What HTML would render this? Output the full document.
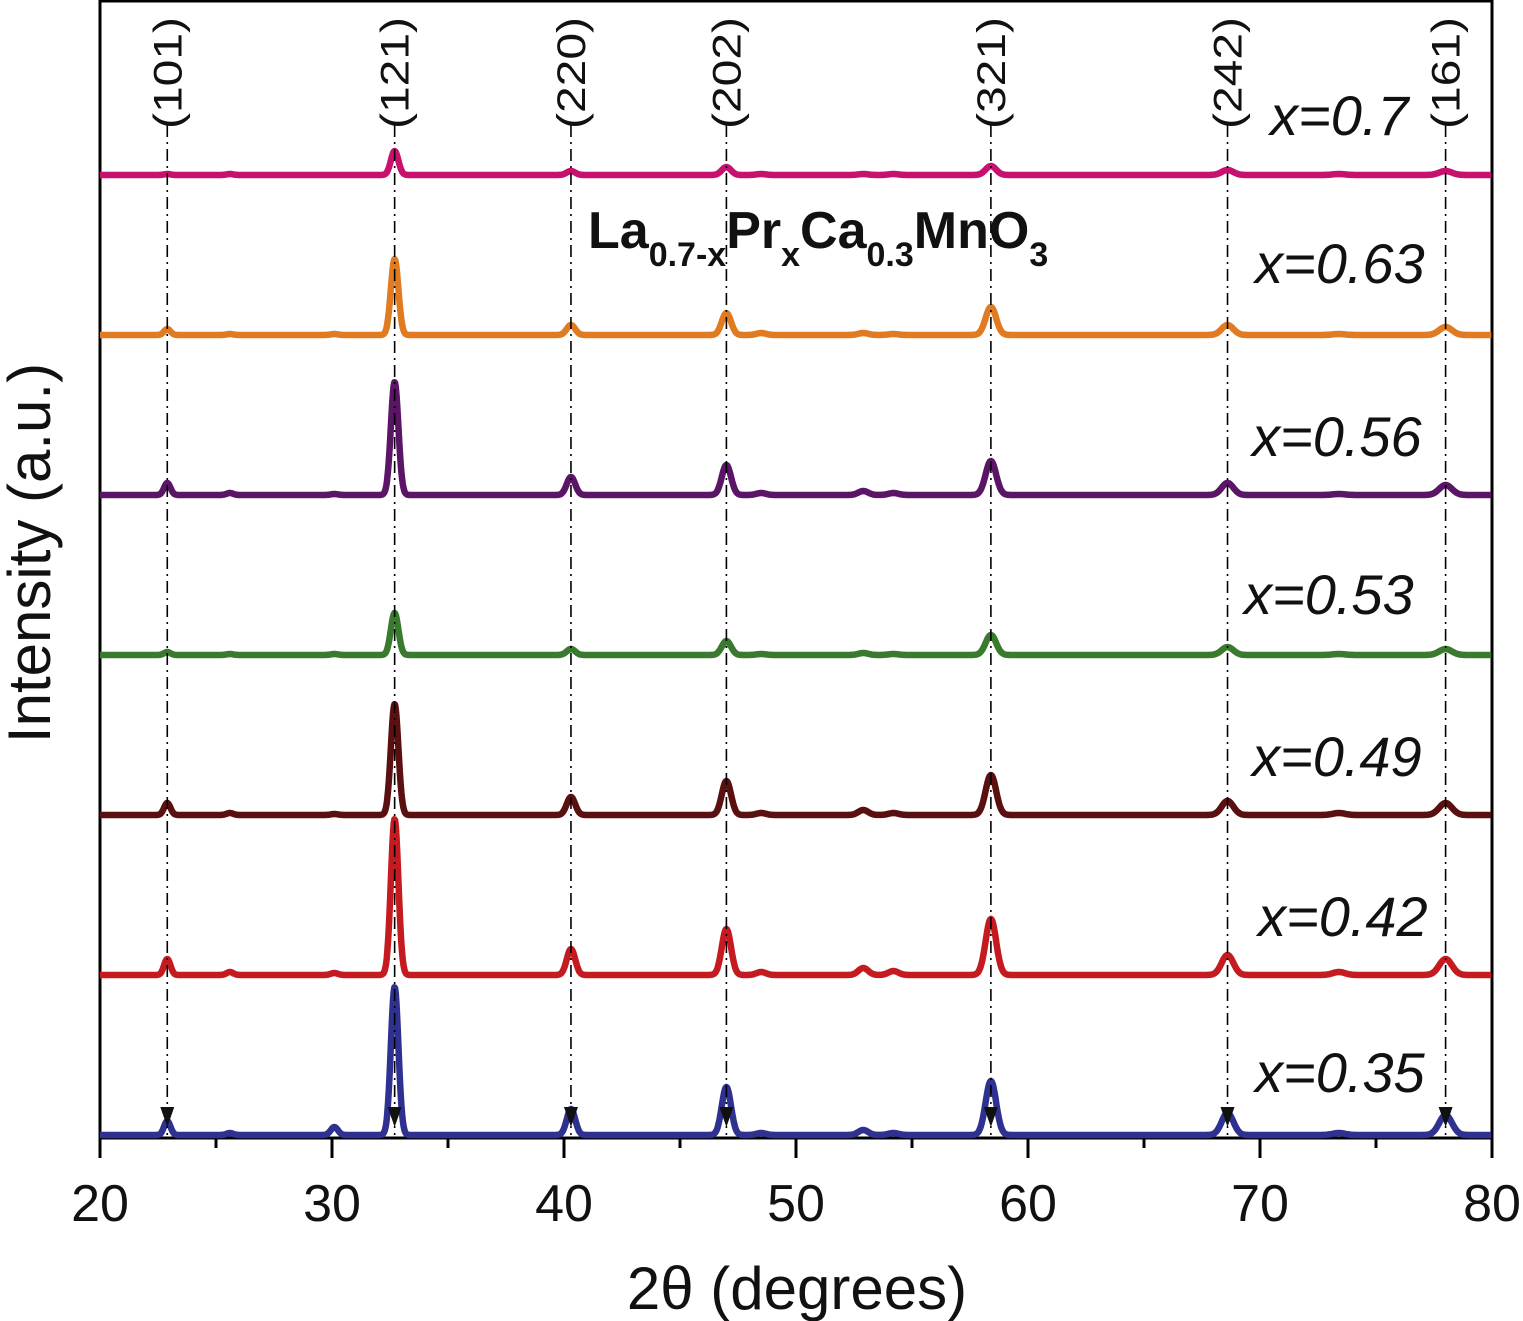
<!DOCTYPE html>
<html><head><meta charset="utf-8"><style>
html,body{margin:0;padding:0;background:#fff;}
svg{display:block;font-family:"Liberation Sans",sans-serif;}
</style></head><body>
<svg id="chart" width="1523" height="1321" viewBox="0 0 1523 1321" xmlns="http://www.w3.org/2000/svg"></svg>
<script>
const samples = ["x=0.35","x=0.42","x=0.49","x=0.53","x=0.56","x=0.63","x=0.7"];
const colors = ["#2e3190","#c41a20","#5a1010","#3a7a2e","#5a1566","#e07b22","#c8116e"];
const offsets = [0,160,320,480,640,800,960];
const peakPos = [22.9,25.6,30.1,32.7,40.3,47.0,48.5,52.9,54.2,58.4,68.6,73.4,78.0];
const h035 = [14,2,8,148,26,48,2,5,2,54,22,2,20];
const h042 = [16,3,2,156,26,46,3,7,4,56,20,3,16];
const h049 = [12,2,1,111,18,34,2,5,2,40,14,2,12];
const h053 = [3,1,1,42,6,14,1,2,1,20,8,1,6];
const h056 = [12,2,1,113,18,30,2,4,2,34,12,1,10];
const h063 = [6,1,1,76,10,22,2,2,1,28,10,1,8];
const h07 = [1,1,0,24,4,8,1,1,1,9,5,1,4];
const heights = [h035,h042,h049,h053,h056,h063,h07];
const hklLabels = ["(101)","(121)","(220)","(202)","(321)","(242)","(161)"];
const hklPos = [22.9,32.7,40.3,47.0,58.4,68.6,78.0];
const xTicks = [20,30,40,50,60,70,80];

const svg = document.getElementById('chart');
const NS = "http://www.w3.org/2000/svg";
const X0=100, X1=1492, YB=1138, BASE=1135;
const xs = v => X0 + (v-20)/60*(X1-X0);
function mk(tag, attrs){const e=document.createElementNS(NS,tag);for(const k in attrs)e.setAttribute(k,attrs[k]);svg.appendChild(e);return e;}

let fr = mk('rect',{x:X0,y:1,width:X1-X0,height:YB-1,fill:'none',stroke:'#000','stroke-width':3});



for(let v=20; v<=80; v+=5){
  const major = v%10===0;
  const t = mk('line',{x1:xs(v),x2:xs(v),y1:YB,y2:YB+(major?20:10),stroke:'#000','stroke-width':3});
  
  
}
xTicks.forEach(v=>{
  const t = mk('text',{x:xs(v),y:1221,'font-size':52,'text-anchor':'middle',fill:'#111'});
  t.textContent=v;
  
  
});

samples.forEach((s,i)=>{
  const base = BASE - offsets[i];
  let d='';
  for(let v=20; v<=80; v+=0.03){
    let y=0;
    peakPos.forEach((p,j)=>{ const sg = 0.13 + (p-20)*0.0025; y += heights[i][j]*Math.exp(-((v-p)*(v-p))/(2*sg*sg)); });
    d += (d?'L':'M') + xs(v).toFixed(1) + ' ' + (base - y).toFixed(1);
  }
  const p = mk('path',{d:d,fill:'none',stroke:colors[i],'stroke-width':6.5,'stroke-linejoin':'round'});
  
  
});

hklPos.forEach((v,i)=>{
  const l = mk('line',{x1:xs(v),x2:xs(v),y1:125,y2:BASE,stroke:'#000','stroke-width':1.6,'stroke-dasharray':'12 5 2 5'});
  
  
  const t = mk('text',{x:0,y:0,'font-size':40,'text-anchor':'middle',fill:'#111',transform:`translate(${xs(v)+14},73) rotate(-90) scale(1.2,1)`});
  t.textContent = hklLabels[i];
  
  
  const a = mk('polygon',{points:`${xs(v)-7},${BASE-28} ${xs(v)+7},${BASE-28} ${xs(v)},${BASE-8}`,fill:'#111'});
  
  
});

const labelPos = [[1270,135],[1255,283],[1252,456],[1244,614],[1252,776],[1258,936],[1255,1092]].reverse();
samples.forEach((s,i)=>{
  const t = mk('text',{x:labelPos[i][0],y:labelPos[i][1],'font-size':56,'font-style':'italic',fill:'#111'});
  t.textContent = s;
  
  
});
</script>
<svg style="position:absolute;left:0;top:0" width="1523" height="1321">
<text x="588" y="248" font-family="Liberation Sans, sans-serif" font-weight="bold" font-size="52" fill="#111">La<tspan font-size="34" dy="18">0.7-x</tspan><tspan dy="-18">Pr</tspan><tspan font-size="34" dy="18">x</tspan><tspan dy="-18">Ca</tspan><tspan font-size="34" dy="18">0.3</tspan><tspan dy="-18">MnO</tspan><tspan font-size="34" dy="18">3</tspan></text>
<text x="797" y="1309" text-anchor="middle" font-family="Liberation Sans, sans-serif" font-size="60" fill="#111">2θ (degrees)</text>
<text transform="translate(50,553) rotate(-90)" text-anchor="middle" font-family="Liberation Sans, sans-serif" font-size="60" fill="#111">Intensity (a.u.)</text>
</svg>
</body></html>
